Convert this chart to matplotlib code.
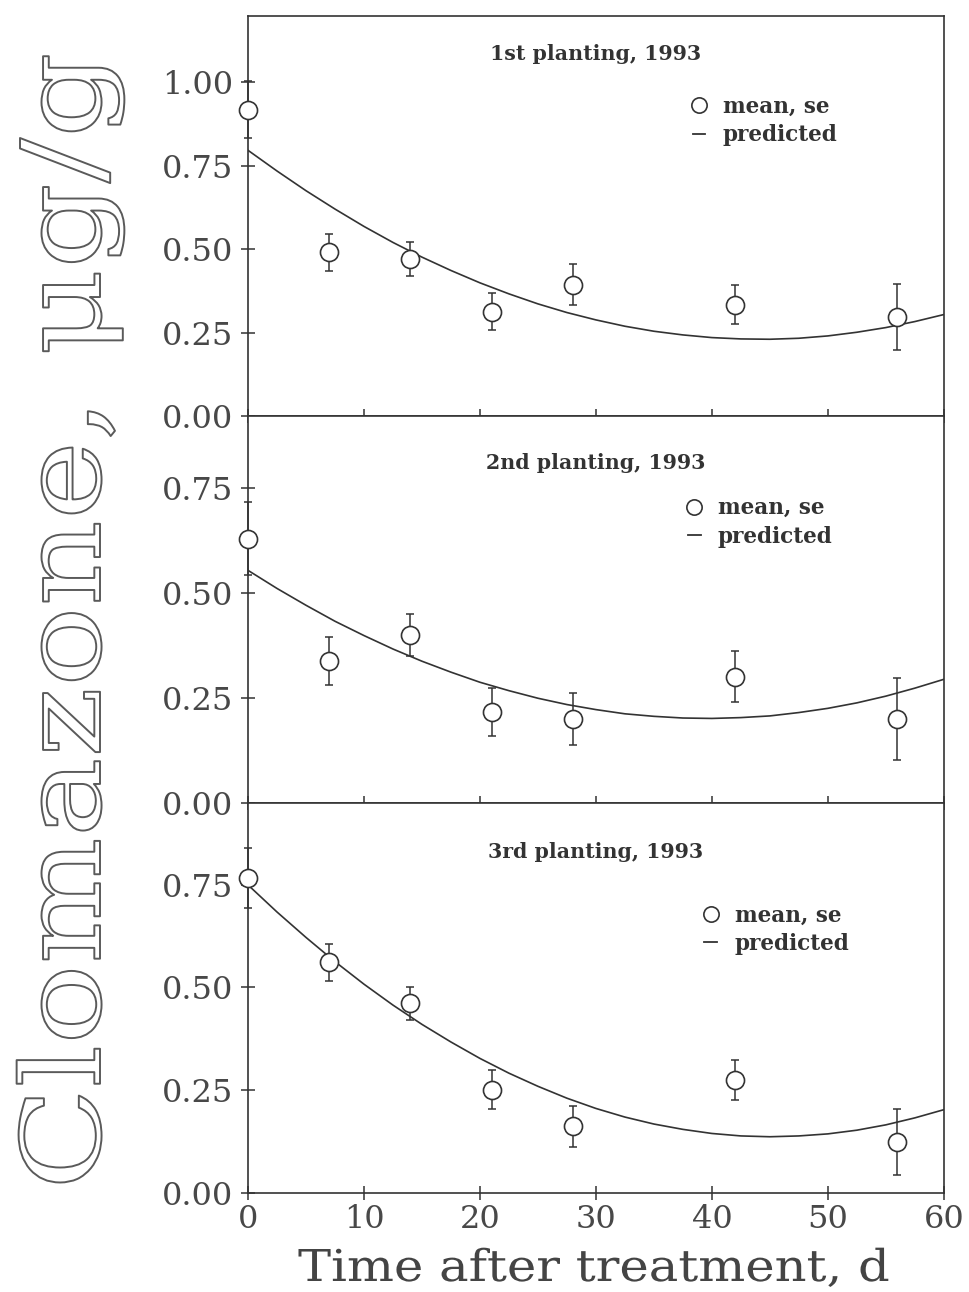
import matplotlib
matplotlib.use("Agg")
import matplotlib.pyplot as plt
import matplotlib.patheffects as pe
from matplotlib.lines import Line2D
from matplotlib.transforms import Affine2D

# sampling days and measured clomazone (mean and standard error) per planting
days = [0, 7, 14, 21, 28, 42, 56]
pred_days = [0, 2.5, 5, 7.5, 10, 12.5, 15, 17.5, 20, 22.5, 25, 27.5, 30,
             32.5, 35, 37.5, 40, 42.5, 45, 47.5, 50, 52.5, 55, 57.5, 60]

mean_1 = [0.918, 0.490, 0.470, 0.313, 0.394, 0.334, 0.296]
se_1 = [0.085, 0.056, 0.050, 0.056, 0.061, 0.059, 0.099]
pred_1 = [0.796, 0.734, 0.675, 0.620, 0.568, 0.520, 0.476, 0.436, 0.399, 0.366,
          0.336, 0.310, 0.288, 0.269, 0.254, 0.243, 0.235, 0.231, 0.230, 0.233,
          0.240, 0.251, 0.265, 0.283, 0.304]

mean_2 = [0.628, 0.338, 0.399, 0.217, 0.199, 0.300, 0.200]
se_2 = [0.087, 0.057, 0.050, 0.057, 0.062, 0.061, 0.098]
pred_2 = [0.553, 0.510, 0.470, 0.432, 0.398, 0.366, 0.337, 0.311, 0.287, 0.267,
          0.249, 0.234, 0.222, 0.212, 0.206, 0.202, 0.201, 0.203, 0.207, 0.215,
          0.225, 0.238, 0.254, 0.273, 0.294]

mean_3 = [0.767, 0.561, 0.461, 0.251, 0.162, 0.274, 0.123]
se_3 = [0.072, 0.045, 0.041, 0.048, 0.050, 0.049, 0.080]
pred_3 = [0.750, 0.684, 0.622, 0.563, 0.508, 0.457, 0.410, 0.367, 0.327, 0.291,
          0.259, 0.230, 0.205, 0.184, 0.167, 0.154, 0.144, 0.138, 0.136, 0.138,
          0.143, 0.152, 0.165, 0.182, 0.202]

titles = ["1st planting, 1993", "2nd planting, 1993", "3rd planting, 1993"]
ytop = [1.2, 0.92, 0.95]
yticks = [[0, 0.25, 0.5, 0.75, 1.0], [0, 0.25, 0.5, 0.75], [0, 0.25, 0.5, 0.75]]
xticks = [0, 10, 20, 30, 40, 50, 60]

ink = "#333333"
plt.rcParams["font.family"] = "DejaVu Serif"


class Stretched(pe.AbstractPathEffect):
    """Draw text glyphs widened along the baseline, optionally as outlines."""

    def __init__(self, sx=1.0, sy=1.0, edge=None, lw=1.0):
        super().__init__()
        self.sx, self.sy, self.edge, self.lw = sx, sy, edge, lw

    def draw_path(self, renderer, gc, tpath, affine, rgbFace=None):
        aff = Affine2D().scale(self.sx, self.sy) + affine
        gc0 = renderer.new_gc()
        gc0.copy_properties(gc)
        if self.edge is not None:
            gc0.set_linewidth(self.lw)
            gc0.set_foreground(self.edge)
        renderer.draw_path(gc0, tpath, aff, rgbFace)
        gc0.restore()


fig = plt.figure(figsize=(9.69, 12.92), dpi=100)

# panel boxes in figure fractions: left, bottom, width, height
boxes = [
    [0.256, 0.678, 0.718, 0.310],
    [0.256, 0.3785, 0.718, 0.2995],
    [0.256, 0.077, 0.718, 0.3015],
]
title_y = [0.905, 0.879, 0.875]
legend_xy = [(0.743, 0.737), (0.736, 0.725), (0.760, 0.675)]

means = [mean_1, mean_2, mean_3]
ses = [se_1, se_2, se_3]
preds = [pred_1, pred_2, pred_3]

for i in range(3):
    ax = fig.add_axes(boxes[i])
    ax.plot(pred_days, preds[i], color=ink, lw=1.2, zorder=2)
    ax.errorbar(days, means[i], yerr=ses[i], fmt="none", ecolor=ink,
                elinewidth=1.1, capsize=2.6, capthick=1.1, zorder=3, clip_on=False)
    ax.plot(days, means[i], "o", ms=13, mfc="white", mec=ink, mew=1.2,
            zorder=4, clip_on=False)

    ax.set_xlim(0, 60)
    ax.set_ylim(0, ytop[i])
    ax.set_xticks(xticks)
    ax.set_yticks(yticks[i])
    ax.set_yticklabels(["%.2f" % v for v in yticks[i]])
    ax.tick_params(direction="inout", length=10, width=1.1, color=ink,
                   labelsize=23, labelcolor="#484848", pad=6)
    ax.tick_params(axis="x", pad=3)
    if i < 2:
        ax.tick_params(axis="x", labelbottom=False)
    for s in ax.spines.values():
        s.set_color(ink)
        s.set_linewidth(1.2)

    ax.text(0.5, title_y[i], titles[i], transform=ax.transAxes, ha="center",
            va="center", fontsize=14.8, fontweight="bold", color=ink)

    handles = [
        Line2D([], [], marker="o", ls="none", ms=11, mfc="white", mec=ink, mew=1.2),
        Line2D([], [], color=ink, lw=1.3),
    ]
    ax.legend(handles, ["mean, se", "predicted"], loc="center",
              bbox_to_anchor=legend_xy[i], frameon=False, handlelength=0.6,
              handletextpad=0.8, labelspacing=0.3,
              prop={"size": 15.5, "weight": "bold"}, labelcolor=ink)

# x axis title, widened along the baseline
fig.text(298 / 969, 11 / 1292, "Time after treatment, d", ha="left",
         va="baseline", fontsize=31.6, color="#444444",
         path_effects=[Stretched(sx=1.13)])

# large outlined axis title down the left side
fig.text(100 / 969, 102 / 1292, "Clomazone, μg/g", rotation=90,
         rotation_mode="anchor", ha="left", va="baseline",
         fontsize=79, color="white",
         path_effects=[Stretched(sx=1.22, edge="#5a5a5a", lw=1.4)])

fig.savefig("out.png", dpi=100)
